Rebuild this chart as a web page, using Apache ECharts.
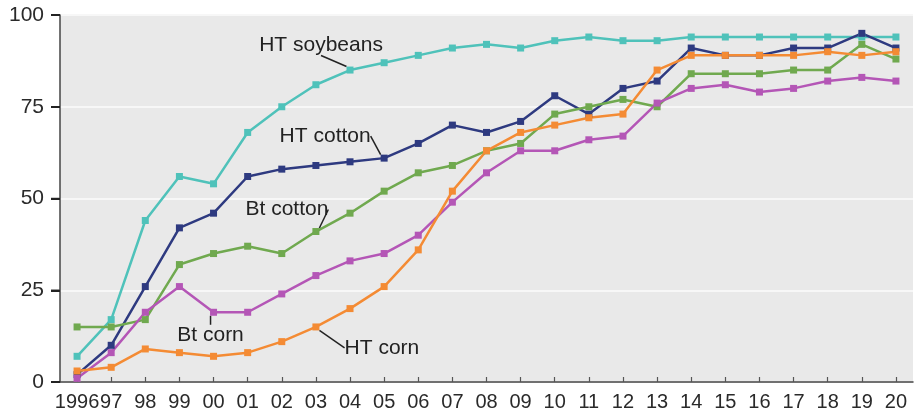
<!DOCTYPE html>
<html>
<head>
<meta charset="utf-8">
<script src="https://cdn.jsdelivr.net/npm/echarts@6/dist/echarts.min.js"></script>
<style>
  html, body { margin: 0; padding: 0; background: #fff; }
  #main { width: 918px; height: 415px; }
</style>
</head>
<body>
<div id="main"></div>
<script>
// years on the x axis
var years = ['1996','97','98','99','00','01','02','03','04','05','06','07','08','09','10','11','12','13','14','15','16','17','18','19','20'];

// percent of planted acres
var htSoybeans = [7,17,44,56,54,68,75,81,85,87,89,91,92,91,93,94,93,93,94,94,94,94,94,94,94];
var htCotton   = [2,10,26,42,46,56,58,59,60,61,65,70,68,71,78,73,80,82,91,89,89,91,91,95,91];
var btCotton   = [15,15,17,32,35,37,35,41,46,52,57,59,63,65,73,75,77,75,84,84,84,85,85,92,88];
var btCorn     = [1,8,19,26,19,19,24,29,33,35,40,49,57,63,63,66,67,76,80,81,79,80,82,83,82];
var htCorn     = [3,4,9,8,7,8,11,15,20,26,36,52,63,68,70,72,73,85,89,89,89,89,90,89,90];

var yTicks = [0,25,50,75,100];

var chart = echarts.init(document.getElementById('main'));

// one label per series, pulled away from its point with a leader line
function makeSeries(name, data, color, labelIdx, dx, dy) {
  var items = data.map(function (v, i) {
    if (i !== labelIdx) return v;
    return { value: v, label: { show: true, position: 'inside', formatter: name } };
  });
  return {
    name: name,
    type: 'line',
    data: items,
    symbol: 'rect',
    symbolSize: 7,
    z: 3,
    itemStyle: { color: color },
    lineStyle: { color: color, width: 2.5 },
    label: {
      show: false,
      color: '#222',
      fontSize: 21,
      fontFamily: 'Liberation Sans, Arial, sans-serif'
    },
    labelLine: { show: true, lineStyle: { color: '#222', width: 1.5 } },
    labelLayout: { dx: dx, dy: dy },
    emphasis: { disabled: true },
    animation: false
  };
}

option = {
  backgroundColor: '#ffffff',
  textStyle: { fontFamily: 'Liberation Sans, Arial, sans-serif' },
  grid: {
    left: 60, right: 5, top: 15, bottom: 33,
    show: true,
    backgroundColor: '#e9e9e9',
    borderWidth: 0
  },
  xAxis: {
    type: 'category',
    data: years,
    boundaryGap: true,
    axisLine: { lineStyle: { color: '#444', width: 1.5 } },
    axisTick: { show: true, inside: true, alignWithLabel: true, length: 5, lineStyle: { color: '#555', width: 1.2 } },
    axisLabel: { interval: 0, color: '#2a2a2a', fontSize: 20, margin: 10 },
    splitLine: { show: false }
  },
  yAxis: {
    type: 'value',
    min: yTicks[0],
    max: yTicks[yTicks.length - 1],
    interval: 25,
    axisLine: { show: true, lineStyle: { color: '#444', width: 1.5 } },
    axisTick: { show: true, inside: false, length: 9, lineStyle: { color: '#222', width: 2 } },
    axisLabel: { color: '#2a2a2a', fontSize: 21, margin: 16 },
    splitLine: { show: true, lineStyle: { color: '#f7f7f7', width: 2 } }
  },
  series: [
    makeSeries('HT soybeans', htSoybeans, '#4fc2ba', 8, -29, -25),
    makeSeries('HT cotton', htCotton, '#2e3a80', 9, -59, -22),
    makeSeries('Bt cotton', btCotton, '#70a94f', 7, -29, -22),
    makeSeries('Bt corn', btCorn, '#b456b6', 4, -3, 23),
    makeSeries('HT corn', htCorn, '#f48b34', 7, 66, 21)
  ]
};

chart.setOption(option);

// y-axis ticks placed through the value scale (outer ticks were not showing)
var tickMarks = yTicks.map(function (v) {
  var p = chart.convertToPixel({ yAxisIndex: 0 }, v);
  return {
    type: 'line',
    shape: { x1: 51, y1: p, x2: 60, y2: p },
    style: { stroke: '#333', lineWidth: 1.5 },
    silent: true
  };
});
chart.setOption({ graphic: tickMarks });
</script>
</body>
</html>
